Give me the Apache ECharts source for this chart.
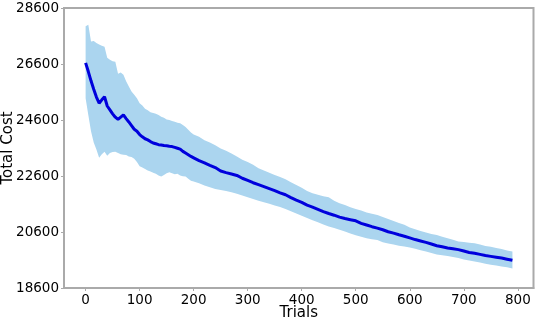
<!DOCTYPE html>
<html>
<head>
<meta charset="utf-8">
<script src="https://cdn.jsdelivr.net/npm/echarts@6/dist/echarts.min.js"></script>
<style>
  html, body { margin: 0; padding: 0; background: #fff; }
  #chart { width: 536px; height: 320px; }
</style>
</head>
<body>
<div id="chart"></div>
<script>
// trial index (x)
const trials = [
  0, 5, 10, 15, 20, 25, 30, 35, 40, 45, 50, 55, 60, 65, 70, 75, 80, 85, 90, 95,
  100, 105, 110, 115, 120, 125, 130, 135, 140, 145, 150, 155, 160, 165, 170, 175, 180, 185, 190, 195, 200,
  210, 220, 230, 240, 250, 260, 270, 280, 290, 300,
  310, 320, 330, 340, 350, 360, 370, 380, 390, 400,
  410, 420, 430, 440, 450, 460, 470, 480, 490, 500,
  510, 520, 530, 540, 550, 560, 570, 580, 590, 600,
  610, 620, 630, 640, 650, 660, 670, 680, 690, 700,
  710, 720, 730, 740, 750, 760, 770, 780, 790
]
// mean total cost
const meanCost = [
  26640, 26330, 26000, 25700, 25420, 25200, 25320, 25430, 25100, 24960, 24820, 24700, 24620, 24700, 24780, 24650, 24530, 24400, 24270, 24200,
  24080, 24000, 23930, 23890, 23830, 23780, 23750, 23720, 23710, 23690, 23680, 23660, 23650, 23620, 23590, 23560, 23480, 23420, 23360, 23300, 23250,
  23150, 23070, 22980, 22900, 22780, 22720, 22670, 22620, 22520, 22440,
  22360, 22290, 22220, 22150, 22080, 22000, 21930, 21830, 21740, 21660,
  21560, 21490, 21410, 21330, 21260, 21200, 21130, 21080, 21040, 21000,
  20910, 20850, 20790, 20740, 20680, 20610, 20560, 20500, 20450, 20390,
  20330, 20280, 20230, 20170, 20110, 20070, 20030, 20000, 19970, 19920,
  19870, 19840, 19800, 19760, 19730, 19700, 19670, 19630, 19590
]
// upper edge of the shaded band
const upperCost = [
  27950, 28000, 27400, 27420, 27350, 27300, 27250, 27220, 26820, 26750, 26700, 26680, 26250, 26300, 26220, 25980, 25800, 25620, 25500, 25380,
  25200, 25120, 25000, 24950, 24880, 24850, 24820, 24780, 24720, 24680, 24620, 24600, 24560, 24540, 24500, 24480, 24420, 24350, 24250, 24150, 24080,
  24000, 23880, 23800, 23700, 23580, 23500, 23400, 23300, 23180, 23100,
  23000, 22880, 22800, 22720, 22640, 22560, 22480, 22380, 22280, 22180,
  22060, 21980, 21930, 21880, 21840, 21720, 21630, 21560, 21480, 21420,
  21370, 21300, 21250, 21210, 21140, 21060, 20990, 20920, 20860, 20760,
  20700, 20640, 20580, 20530, 20490, 20430, 20380, 20320, 20260, 20240,
  20220, 20200, 20150, 20100, 20070, 20030, 19990, 19940, 19900
]
// lower edge of the shaded band
const lowerCost = [
  25380, 24780, 24200, 23800, 23550, 23250, 23380, 23470, 23320, 23420, 23460, 23470, 23420, 23380, 23360, 23350, 23300, 23280, 23220, 23100,
  22950, 22900, 22850, 22800, 22760, 22720, 22680, 22620, 22580, 22640, 22700, 22730, 22700, 22660, 22680, 22620, 22590, 22580, 22500, 22430, 22400,
  22340, 22260, 22200, 22140, 22100, 22060, 22020, 21970, 21900, 21840,
  21780, 21720, 21660, 21610, 21550, 21490, 21420, 21340, 21260, 21180,
  21100, 21020, 20950, 20870, 20800, 20740, 20680, 20620, 20550, 20480,
  20430, 20380, 20340, 20310, 20230, 20190, 20150, 20110, 20080, 20050,
  20000, 19950, 19900, 19850, 19800, 19770, 19740, 19710, 19670, 19620,
  19580, 19550, 19510, 19470, 19430, 19400, 19370, 19340, 19300
]
const xTicks = [0, 100, 200, 300, 400, 500, 600, 700, 800]

const chart = echarts.init(document.getElementById('chart'), null, { renderer: 'canvas' })

const bandColor = '#abd5ef'
const lineColor = '#0000dc'
const axisGrey = '#aaaaaa'
const font = 'DejaVu Sans'

let option = {
  animation: false,
  grid: {
    left: 64,
    right: 2.5,
    top: 8,
    bottom: 32,
    outerBoundsMode: 'none',
    containLabel: false,
    show: true,
    borderColor: axisGrey,
    borderWidth: 2,
  },
  xAxis: {
    type: 'value',
    min: -40,
    max: 829,
    name: 'Trials',
    nameLocation: 'middle',
    nameGap: 18,
    nameMoveOverlap: false,
    nameTextStyle: { fontFamily: font, fontSize: 15, color: '#000' },
    axisLine: { show: true, onZero: false, lineStyle: { color: axisGrey, width: 2 } },
    axisTick: { show: true, length: 3, lineStyle: { color: axisGrey }, customValues: xTicks },
    axisLabel: {
      fontFamily: font, fontSize: 13.5, color: '#000', margin: 5, customValues: xTicks,
      formatter: (v) => String(v),
    },
    splitLine: { show: false },
  },
  yAxis: {
    type: 'value',
    min: 18600,
    max: 28600,
    interval: 2000,
    name: 'Total Cost',
    nameLocation: 'middle',
    nameGap: 48,
    nameMoveOverlap: false,
    nameTextStyle: { fontFamily: font, fontSize: 15, color: '#000' },
    axisLine: { show: true, onZero: false, lineStyle: { color: axisGrey, width: 2 } },
    axisTick: { show: true, length: 3, lineStyle: { color: axisGrey } },
    axisLabel: {
      fontFamily: font, fontSize: 13.5, color: '#000', margin: 5,
      align: 'right', verticalAlign: 'middle',
      formatter: (v) => String(v),
    },
    splitLine: { show: false },
  },
  series: [
    {
      name: 'band',
      type: 'custom',
      coordinateSystem: 'cartesian2d',
      data: trials.map((t, i) => [t, lowerCost[i], upperCost[i]]),
      encode: { x: 0, y: [1, 2] },
      z: 1,
      renderItem: function (params, api) {
        if (params.dataIndex !== 0) return
        const pts = []
        for (let i = 0; i < trials.length; i++) pts.push(api.coord([trials[i], upperCost[i]]))
        for (let i = trials.length - 1; i >= 0; i--) pts.push(api.coord([trials[i], lowerCost[i]]))
        return {
          type: 'polygon',
          shape: { points: pts },
          style: { fill: bandColor },
        }
      },
    },
    {
      name: 'mean',
      type: 'line',
      data: trials.map((t, i) => [t, meanCost[i]]),
      showSymbol: false,
      z: 3,
      lineStyle: { color: lineColor, width: 3 },
      itemStyle: { color: lineColor },
    },
  ],
}
chart.setOption(option)
</script>
</body>
</html>
